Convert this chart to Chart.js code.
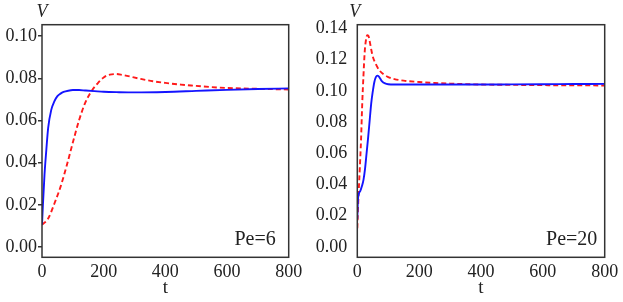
<!DOCTYPE html>
<html>
<head>
<meta charset="utf-8">
<script src="https://cdn.jsdelivr.net/npm/chart.js@4.4.1/dist/chart.umd.min.js"></script>
<style>
  html, body { margin: 0; padding: 0; background: #fff; }
  #wrap { position: relative; width: 623px; height: 302px; }
  canvas { position: absolute; top: 0; }
</style>
</head>
<body>
<div id="wrap">
  <canvas id="chartLeft" width="310" height="302" style="left:0"></canvas>
  <canvas id="chartRight" width="313" height="302" style="left:310px"></canvas>
</div>
<script>
// tick labels
const xTicks = [0, 200, 400, 600, 800];
const yTicksLeft = [0, 0.02, 0.04, 0.06, 0.08, 0.10];
const yTicksRight = [0, 0.02, 0.04, 0.06, 0.08, 0.10, 0.12, 0.14];

// Pe=6
const tBlueLeft = [0, 3, 8, 14, 20, 30, 40, 50, 60, 70, 85, 100, 120, 140, 170, 200, 250, 300, 400, 500, 600, 700, 800];
const blueLeft = [0.0105, 0.02, 0.034, 0.046, 0.0565, 0.065, 0.069, 0.0715, 0.0727, 0.0735, 0.0741, 0.0744, 0.0744, 0.0742, 0.0739, 0.0736, 0.0734, 0.0733, 0.0735, 0.074, 0.0745, 0.0749, 0.0752];
const tRedLeft = [0, 20, 40, 60, 80, 100, 120, 140, 160, 180, 200, 220, 240, 260, 280, 320, 360, 400, 450, 500, 550, 600, 700, 800];
const redLeft = [0.0105, 0.0135, 0.0205, 0.0285, 0.0385, 0.0495, 0.06, 0.0683, 0.0738, 0.0775, 0.0804, 0.0817, 0.082, 0.0816, 0.081, 0.0797, 0.0786, 0.0778, 0.077, 0.0764, 0.0758, 0.0754, 0.075, 0.0747];

// Pe=20
const tBlueRight = [0, 2, 5, 10, 15, 20, 25, 30, 35, 40, 45, 50, 55, 60, 65, 70, 75, 80, 90, 100, 120, 150, 200, 300, 400, 500, 600, 700, 800];
const blueRight = [0.018, 0.03, 0.034, 0.036, 0.039, 0.043, 0.05, 0.06, 0.07, 0.081, 0.092, 0.0995, 0.1055, 0.1088, 0.1097, 0.109, 0.1075, 0.106, 0.1047, 0.1042, 0.104, 0.104, 0.104, 0.104, 0.104, 0.1041, 0.1042, 0.1043, 0.1044];
const tRedRight = [0, 4, 8, 12, 16, 20, 24, 28, 32, 36, 40, 45, 50, 60, 70, 85, 100, 120, 150, 200, 250, 300, 400, 500, 600, 700, 800];
const redRight = [0.012, 0.033, 0.05, 0.068, 0.092, 0.11, 0.125, 0.1325, 0.1355, 0.1352, 0.1318, 0.1265, 0.122, 0.117, 0.1135, 0.1105, 0.1088, 0.1075, 0.1065, 0.1056, 0.105, 0.1046, 0.104, 0.1038, 0.1036, 0.1035, 0.1034];

Chart.defaults.font.family = "'Liberation Serif', 'Times New Roman', serif";
Chart.defaults.color = "#222";

function toPoints(ts, vs) {
  return ts.map((t, i) => ({ x: t, y: vs[i] }));
}

// khung + nhãn V, Pe
const framePlugin = {
  id: "frame",
  afterDraw(chart, args, opts) {
    const a = chart.chartArea;
    const ctx = chart.ctx;
    ctx.save();
    ctx.strokeStyle = "#333";
    ctx.lineWidth = 1.5;
    ctx.strokeRect(a.left, a.top, a.right - a.left, a.bottom - a.top);
    ctx.fillStyle = "#222";
    ctx.font = "italic 18px 'Liberation Serif', serif";
    ctx.textAlign = "center";
    ctx.textBaseline = "alphabetic";
    ctx.fillText("V", a.left + opts.vOffset, 17);
    ctx.font = "20px 'Liberation Serif', serif";
    ctx.textAlign = "right";
    ctx.fillText(opts.label, a.right - opts.labelRight, 245);
    ctx.restore();
  },
};

function makeChart(id, o) {
  new Chart(id, {
    type: "line",
    data: {
      datasets: [
        {
          data: toPoints(o.tBlue, o.blue),
          borderColor: "#1414ff",
          borderWidth: 1.9,
          pointRadius: 0,
          cubicInterpolationMode: "monotone",
        },
        {
          data: toPoints(o.tRed, o.red),
          borderColor: "#ff1a1a",
          borderWidth: 1.9,
          borderDash: [5, 3],
          pointRadius: 0,
          cubicInterpolationMode: "monotone",
        },
      ],
    },
    options: {
      responsive: false,
      animation: false,
      devicePixelRatio: 1,
      layout: { padding: { left: 0, right: o.padRight, top: 24.7, bottom: 0 } },
      plugins: {
        legend: { display: false },
        tooltip: { enabled: false },
        frame: { label: o.label, labelRight: o.labelRight, vOffset: o.vOffset },
      },
      scales: {
        x: {
          type: "linear",
          min: 0,
          max: 800,
          afterBuildTicks: (s) => { s.ticks = xTicks.map((v) => ({ value: v })); },
          afterFit: (s) => { s.height = 44.7; },
          grid: { display: false },
          border: { display: false },
          ticks: { font: { size: 18 }, padding: -4, maxRotation: 0 },
          title: { display: true, text: "t", font: { size: 19 }, padding: { top: 0, bottom: 3 } },
        },
        y: {
          min: o.yMin,
          max: o.yMax,
          afterBuildTicks: (s) => { s.ticks = o.yTicks.map((v) => ({ value: v })); },
          afterFit: (s) => { s.width = o.yWidth; },
          grid: {
            drawOnChartArea: false,
            drawTicks: o.showTicks,
            tickLength: 4,
            color: "#333",
            lineWidth: 1.5,
          },
          border: { display: false },
          ticks: {
            font: { size: 18 },
            padding: o.tickPad,
            callback: (v) => v.toFixed(2),
          },
        },
      },
    },
    plugins: [framePlugin],
  });
}

document.addEventListener("DOMContentLoaded", function () {
  makeChart("chartLeft", {
    tBlue: tBlueLeft, blue: blueLeft, tRed: tRedLeft, red: redLeft,
    yMin: -0.0049, yMax: 0.1054, yTicks: yTicksLeft,
    yWidth: 42, padRight: 21.3, showTicks: true, tickPad: 1,
    label: "Pe=6", labelRight: 13, vOffset: 0,
  });
  makeChart("chartRight", {
    tBlue: tBlueRight, blue: blueRight, tRed: tRedRight, red: redRight,
    yMin: -0.0066, yMax: 0.1423, yTicks: yTicksRight,
    yWidth: 47.3, padRight: 18.3, showTicks: false, tickPad: 10,
    label: "Pe=20", labelRight: 7.4, vOffset: -2.6,
  });
});
</script>
</body>
</html>
